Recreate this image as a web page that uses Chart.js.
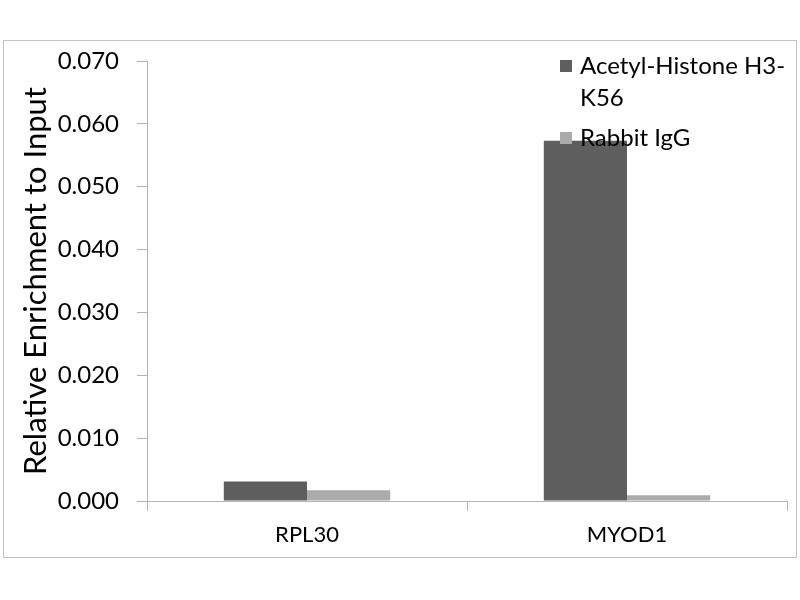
<!DOCTYPE html>
<html>
<head>
<meta charset="utf-8">
<script src="https://cdn.jsdelivr.net/npm/chart.js@4/dist/chart.umd.min.js"></script>
<style>
  html, body { margin: 0; padding: 0; background: #fff; }
  #chart { display: block; }
</style>
</head>
<body>
<canvas id="chart" width="800" height="600"></canvas>
<script>
// genes on the x axis
const genes = ['RPL30', 'MYOD1'];
// antibody series
const seriesNames = ['Acetyl-Histone H3-K56', 'Rabbit IgG'];
const acetylValues = [0.0031, 0.0573];
const iggValues = [0.0017, 0.0009];
const seriesColors = ['#5e5e5e', '#ababab'];
// y axis
const yMin = 0, yMax = 0.07, yStep = 0.01;
const yTitle = 'Relative Enrichment to Input';

const FONT = 'Lato, "Open Sans", sans-serif';
const axisGray = '#b4b4b4';

// white page and grey frame round the chart
const framePlugin = {
  id: 'frame',
  beforeDraw(chart) {
    const ctx = chart.ctx;
    ctx.save();
    ctx.fillStyle = '#fff';
    ctx.fillRect(0, 0, chart.width, chart.height);
    ctx.strokeStyle = '#c4c4c4';
    ctx.lineWidth = 1;
    ctx.strokeRect(3.5, 40.5, 793, 517);
    ctx.restore();
  }
};

// break a legend label when it gets too wide, keeping the hyphen
function wrapLabel(ctx, text, maxWidth) {
  const parts = text.match(/[^\s-]+-?\s*/g) || [text];
  const lines = [];
  let cur = '';
  for (const p of parts) {
    if (cur && ctx.measureText((cur + p).trim()).width > maxWidth) {
      lines.push(cur.trim());
      cur = p;
    } else {
      cur += p;
    }
  }
  if (cur) lines.push(cur.trim());
  return lines;
}

// legend drawn over the plot, top right, like the original
const legendPlugin = {
  id: 'sideLegend',
  afterDraw(chart) {
    const ctx = chart.ctx;
    ctx.save();
    ctx.font = '24px ' + FONT;
    ctx.textBaseline = 'middle';
    let y = 66;
    chart.data.datasets.forEach((ds, i) => {
      const lines = wrapLabel(ctx, ds.label, 212);
      ctx.fillStyle = ds.backgroundColor;
      ctx.fillRect(560, y - 6, 12, 12);
      ctx.fillStyle = '#000';
      lines.forEach((ln, j) => ctx.fillText(ln, 580, y + j * 32));
      y += (lines.length - 1) * 32 + 40;
    });
    ctx.restore();
  }
};

const chart_data = {
  labels: genes,
  datasets: [
    { label: seriesNames[0], data: acetylValues, backgroundColor: seriesColors[0] },
    { label: seriesNames[1], data: iggValues, backgroundColor: seriesColors[1] }
  ]
};

const chart_config = {
  type: 'bar',
  data: chart_data,
  options: {
    responsive: false,
    animation: false,
    devicePixelRatio: 1,
    layout: { padding: { top: 61, right: 13, left: 0, bottom: 0 }, autoPadding: false },
    datasets: { bar: { categoryPercentage: 0.52, barPercentage: 1 } },
    plugins: { legend: { display: false }, tooltip: { enabled: false } },
    scales: {
      x: {
        afterFit(scale) { scale.height = 99; },
        grid: { display: true, drawOnChartArea: false, offset: true, tickLength: 10, color: axisGray },
        border: { color: axisGray },
        ticks: { color: '#000', font: { family: FONT, size: 22 }, padding: 11 }
      },
      y: {
        min: yMin, max: yMax,
        afterFit(scale) { scale.width = 147; },
        grid: { display: true, drawOnChartArea: false, tickLength: 10, color: axisGray },
        border: { color: axisGray },
        ticks: {
          stepSize: yStep, color: '#000', padding: 18,
          font: { family: FONT, size: 24 },
          callback: v => v.toFixed(3)
        },
        title: { display: true, text: yTitle, color: '#000', font: { family: FONT, size: 31 }, padding: { top: 17, bottom: 0 } }
      }
    }
  },
  plugins: [framePlugin, legendPlugin]
};

const enrichment_chart = new Chart(document.getElementById('chart'), chart_config);
</script>
</body>
</html>
